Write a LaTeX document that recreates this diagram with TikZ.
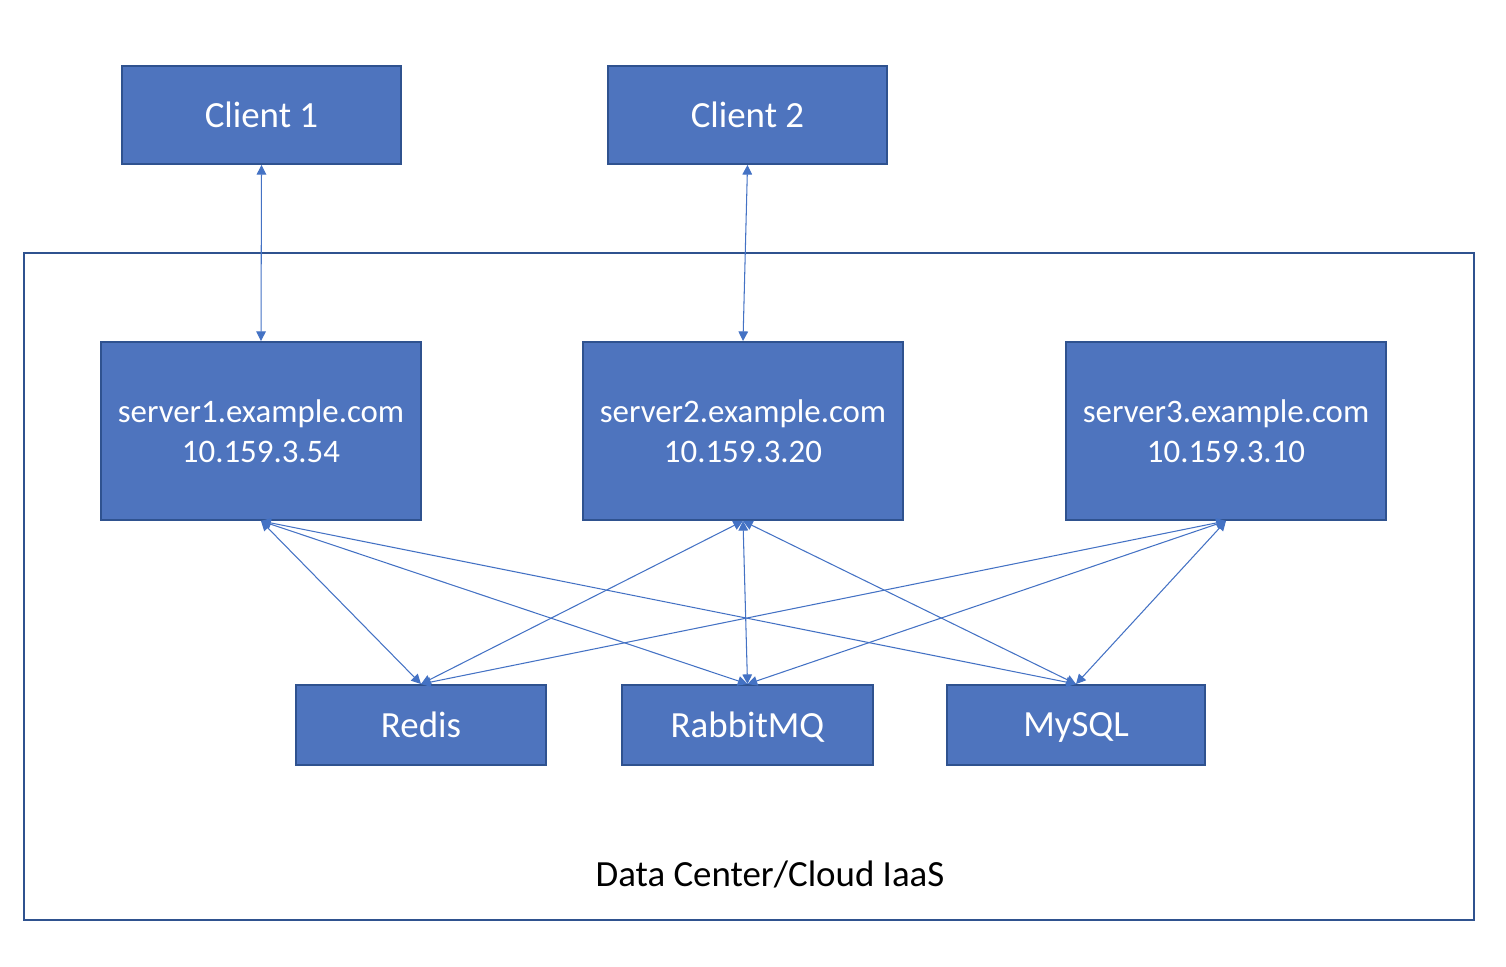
\documentclass[tikz,border=0pt]{standalone}
\usepackage{fontspec}
\setmainfont{Carlito}
\usetikzlibrary{arrows.meta}

\definecolor{boxblue}{RGB}{78,116,190}
\definecolor{edgeblue}{RGB}{47,82,143}
\definecolor{linkblue}{RGB}{68,114,196}

\newcommand{\flatbase}[1]{\raisebox{0pt}[\height][0pt]{#1}}

\tikzset{
  box/.style={draw=edgeblue, line width=1.1pt, fill=boxblue, text=white, align=center, inner sep=0pt},
  link/.style={{Triangle[length=5.5pt,width=5.5pt]}-{Triangle[length=5.5pt,width=5.5pt]}, draw=linkblue, line width=0.6pt}
}

\begin{document}
\begin{tikzpicture}[x=0.02cm,y=-0.02cm]
\useasboundingbox (0,0) rectangle (1506,966);

\draw[edgeblue, line width=1.1pt] (24,253) rectangle (1474,920);
\node (dc) at (770,874) {\fontsize{21}{25}\selectfont Data Center/Cloud IaaS};

\node[box, minimum width=5.58cm, minimum height=1.96cm, font=\fontsize{21}{25}\selectfont] (client1) at (261.5,115) {Client 1};
\node[box, minimum width=5.58cm, minimum height=1.96cm, font=\fontsize{21}{25}\selectfont] (client2) at (747.5,115) {Client 2};

\node[box, minimum width=6.4cm, minimum height=3.56cm, font=\fontsize{18.7}{22.7}\selectfont] (server1) at (261,431) {server1.example.com\\10.159.3.54};
\node[box, minimum width=6.4cm, minimum height=3.56cm, font=\fontsize{18.7}{22.7}\selectfont] (server2) at (743,431) {server2.example.com\\10.159.3.20};
\node[box, minimum width=6.4cm, minimum height=3.56cm, font=\fontsize{18.7}{22.7}\selectfont] (server3) at (1226,431) {server3.example.com\\10.159.3.10};

\node[box, minimum width=5.0cm, minimum height=1.6cm, font=\fontsize{21}{25}\selectfont] (redis) at (421,725) {Redis};
\node[box, minimum width=5.02cm, minimum height=1.6cm, font=\fontsize{21}{25}\selectfont] (rabbit) at (747.5,725) {\flatbase{RabbitMQ}};
\node[box, minimum width=5.16cm, minimum height=1.6cm, font=\fontsize{21}{25}\selectfont] (mysql) at (1076,725) {\flatbase{MySQL}};

\draw[link] (client1.south) -- (server1.north);
\draw[link] (client2.south) -- (server2.north);

\foreach \s in {server1,server2,server3}
  \foreach \t in {redis,rabbit,mysql}
    \draw[link] (\s.south) -- (\t.north);
\end{tikzpicture}
\end{document}
